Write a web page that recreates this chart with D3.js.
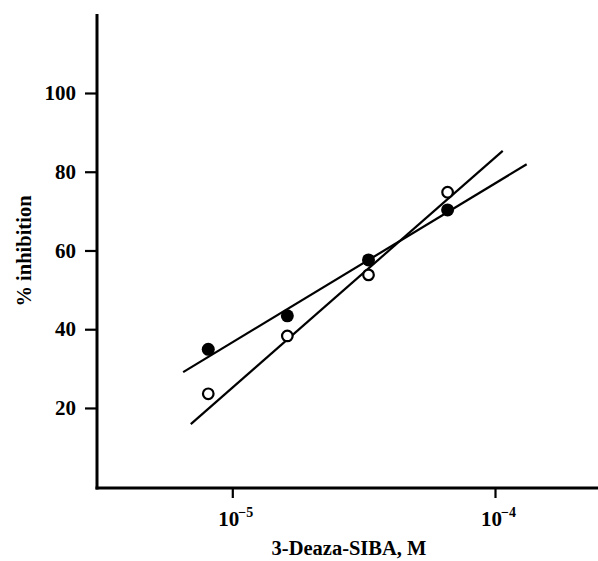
<!DOCTYPE html>
<html>
<head>
<meta charset="utf-8">
<script src="https://cdn.jsdelivr.net/npm/d3@7"></script>
<style>
  html, body { margin: 0; padding: 0; background: #fff; }
  svg { display: block; }
  text, tspan { font-family: "Liberation Serif", "DejaVu Serif", serif; font-weight: bold; fill: #000; }
</style>
</head>
<body>
<svg id="chart" width="598" height="561"></svg>
<script>
// ---- data ----
const concentrations = [8.1e-6, 1.62e-5, 3.3e-5, 6.6e-5];
const filledValues = [34.9, 43.4, 57.6, 70.3];
const openValues = [23.6, 38.3, 53.8, 74.8];
const filledLineX = [6.5e-6, 1.32e-4];
const filledLineY = [29.1, 81.9];
const openLineX = [6.95e-6, 1.07e-4];
const openLineY = [15.9, 85.3];
const yTicks = [20, 40, 60, 80, 100];
const xTicks = [1e-5, 1e-4];
const xTickExponents = ["\u22125", "\u22124"];
const yTitle = "% inhibition";
const xTitle = "3-Deaza-SIBA, M";

// ---- scales ----
const svg = d3.select("#chart");
const x = d3.scaleLog().domain([1e-5, 1e-4]).range([232.3, 495]);
const y = d3.scaleLinear().domain([0, 100]).range([486.7, 93]);

const axisX0 = 97, axisY0 = 488;
const xMax = x.invert(598), yMax = y.invert(14);

// ---- axes lines ----
svg.append("line")
  .attr("x1", axisX0).attr("x2", axisX0)
  .attr("y1", y(yMax)).attr("y2", axisY0 + 1.5)
  .attr("stroke", "#000").attr("stroke-width", 3);
svg.append("line")
  .attr("x1", axisX0 - 1.5).attr("x2", x(xMax))
  .attr("y1", axisY0).attr("y2", axisY0)
  .attr("stroke", "#000").attr("stroke-width", 3);

// y axis ticks
const yAxis = d3.axisLeft(y).tickValues(yTicks).tickSize(12).tickPadding(9).tickFormat(d3.format("d"));
const gy = svg.append("g").attr("transform", `translate(${axisX0},0)`).call(yAxis);
gy.select(".domain").remove();
gy.selectAll(".tick line").attr("stroke", "#000").attr("stroke-width", 2.2);
gy.selectAll(".tick text")
  .style("font-family", '"Liberation Serif", "DejaVu Serif", serif')
  .style("font-weight", "bold").style("font-size", "21px").attr("fill", "#000");

// x axis ticks with superscript labels
const xAxis = d3.axisBottom(x).tickValues(xTicks).tickSize(10).tickFormat(() => "");
const gx = svg.append("g").attr("transform", `translate(0,${axisY0})`).call(xAxis);
gx.select(".domain").remove();
gx.selectAll(".tick line").attr("stroke", "#000").attr("stroke-width", 2.2);
gx.selectAll(".tick text").remove();
const xLabels = svg.append("g").attr("class", "xlabels");
xTicks.forEach((v, i) => {
  xLabels.append("text")
    .attr("x", x(v) - 14).attr("y", 526)
    .attr("text-anchor", "start")
    .style("font-family", '"Liberation Serif", serif')
    .style("font-weight", "bold")
    .style("font-size", "21px")
    .style("fill", "#000")
    .text("10");
  xLabels.append("text")
    .attr("x", x(v) + 6).attr("y", 517)
    .attr("text-anchor", "start")
    .style("font-family", '"Liberation Serif", serif')
    .style("font-weight", "bold")
    .style("font-size", "14px")
    .style("fill", "#000")
    .text(xTickExponents[i]);
});

// titles
svg.append("text")
  .attr("x", 349).attr("y", 555)
  .attr("text-anchor", "middle")
  .style("font-size", "20.5px")
  .text(xTitle);
svg.append("text")
  .attr("transform", "translate(31,251) rotate(-90)")
  .attr("text-anchor", "middle")
  .style("font-size", "20.5px")
  .text(yTitle);

// ---- fitted lines ----
const line = d3.line().x(d => x(d[0])).y(d => y(d[1]));
svg.append("path")
  .datum(d3.zip(filledLineX, filledLineY))
  .attr("d", line).attr("fill", "none").attr("stroke", "#000").attr("stroke-width", 2.2);
svg.append("path")
  .datum(d3.zip(openLineX, openLineY))
  .attr("d", line).attr("fill", "none").attr("stroke", "#000").attr("stroke-width", 2.2);

// ---- points ----
svg.selectAll("circle.open")
  .data(d3.zip(concentrations, openValues))
  .join("circle").attr("class", "open")
  .attr("cx", d => x(d[0])).attr("cy", d => y(d[1]))
  .attr("r", 5.3).attr("fill", "#fff").attr("stroke", "#000").attr("stroke-width", 2.2);
svg.selectAll("circle.filled")
  .data(d3.zip(concentrations, filledValues))
  .join("circle").attr("class", "filled")
  .attr("cx", d => x(d[0])).attr("cy", d => y(d[1]))
  .attr("r", 6.5).attr("fill", "#000");
</script>
</body>
</html>
